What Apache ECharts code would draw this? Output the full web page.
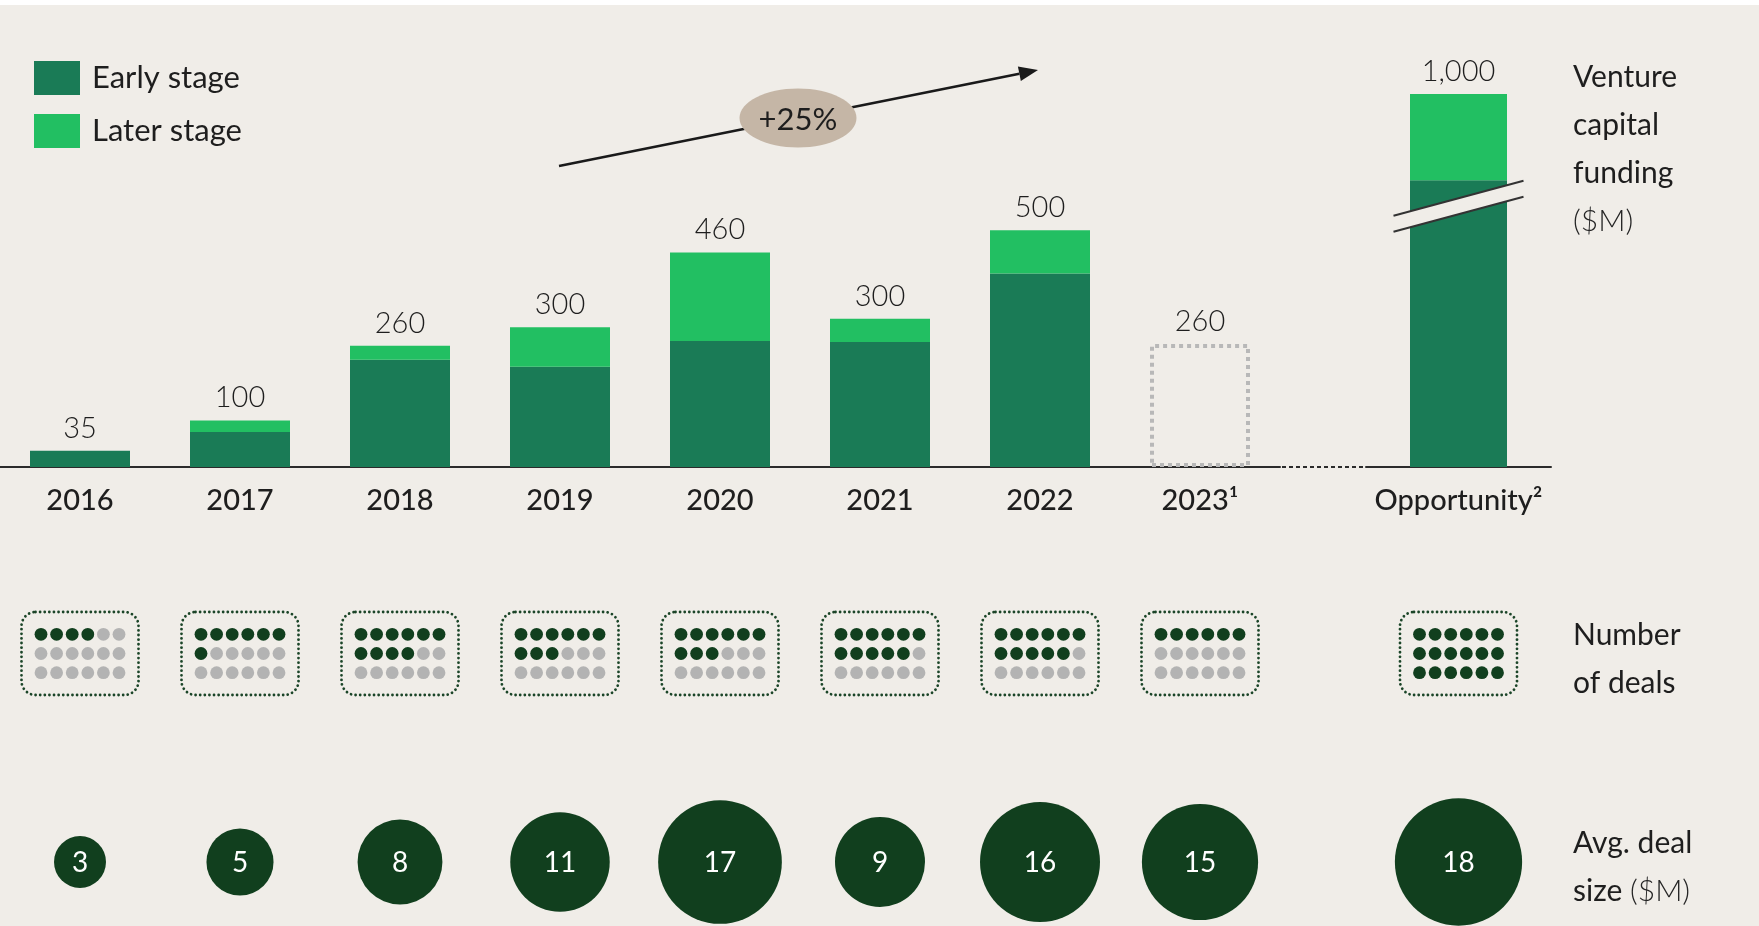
<!DOCTYPE html>
<html><head><meta charset="utf-8">
<script src="https://cdn.jsdelivr.net/npm/echarts@6/dist/echarts.min.js"></script>
<style>html,body{margin:0;padding:0;background:#F0EDE8;}#chart{width:1759px;height:926px;}</style>
</head><body><div id="chart"></div>
<script>
// ---------- data ----------
const categories = ['2016', '2017', '2018', '2019', '2020', '2021', '2022', '2023¹'];
const oppCategory = ['Opportunity²'];
const earlyStage = [35, 75, 230, 215, 270, 268, 415, null];
const laterStage = [0, 25, 30, 85, 190, 50, 93, null];
const projected2023 = [null, null, null, null, null, null, null, 264];
const oppEarly = [815];
const oppLater = [185];
const totalLabels = ['35', '100', '260', '300', '460', '300', '500', '260'];
const oppTotalLabels = ['1,000'];
const dealCounts = [4, 7, 10, 9, 9, 11, 11, 6];
const oppDealCounts = [18];
const avgDealSize = [3, 5, 8, 11, 17, 9, 16, 15];
const oppAvgDealSize = [18];

// ---------- style ----------
const FONT = 'Lato, "Noto Sans", sans-serif';
const BG = '#F0EDE8';
const EARLY = '#1A7B56';
const LATER = '#22BF62';
const DARK = '#113F1E';
const GREY = '#B3B3B3';
const TXT = '#1E1E1E';
const OPP_BREAK = { start: 555, end: 755 };

const totals = earlyStage.map((v, i) => v == null ? projected2023[i] : v + (laterStage[i] || 0));
const oppTotals = oppEarly.map((v, i) => v + oppLater[i]);

function renderDeals(params, api) {
  const c = api.coord([api.value(0), api.value(1)]);
  const n = api.value(2);
  const w = 117, h = 83;
  const children = [{
    type: 'rect',
    shape: { x: c[0] - w / 2, y: c[1] - h / 2, width: w, height: h, r: 14 },
    style: { fill: 'none', stroke: '#1B4528', lineWidth: 2.8, lineDash: [0.01, 4.6], lineCap: 'round' }
  }];
  for (let k = 0; k < 18; k++) {
    const row = Math.floor(k / 6), col = k % 6;
    children.push({
      type: 'circle',
      shape: { cx: c[0] + (col - 2.5) * 15.6, cy: c[1] + (row - 1) * 19.2, r: 6.4 },
      style: { fill: k < n ? DARK : GREY }
    });
  }
  return { type: 'group', children };
}

const hiddenCat = (data, gi) => ({ type: 'category', data, gridIndex: gi, show: false });
const xLabel = {
  margin: 19, fontSize: 29, color: TXT, fontFamily: FONT, fontWeight: 500
};

const valueLabel = (arr) => ({
  show: true, position: 'top', distance: 8,
  fontSize: 29, fontWeight: 300, color: TXT, fontFamily: FONT,
  formatter: p => arr[p.dataIndex]
});

const circleSeries = (data, gi) => ({
  type: 'scatter', xAxisIndex: gi, yAxisIndex: gi,
  data: data.map((v, i) => [i, 0, v]),
  symbol: 'circle',
  symbolSize: d => 30 * Math.sqrt(d[2]),
  itemStyle: { color: DARK, opacity: 1 },
  label: { show: true, position: 'inside', formatter: p => p.value[2], color: '#FFFFFF', fontSize: 28, fontFamily: FONT, offset: [0, 1] },
  silent: true
});

const option = {
  backgroundColor: BG,
  animation: false,
  textStyle: { fontFamily: FONT },
  legend: {
    left: 34, top: 61, padding: 0, orient: 'vertical', itemWidth: 46, itemHeight: 34, itemGap: 19,
    icon: 'rect', data: ['Early stage', 'Later stage'],
    textStyle: { fontSize: 31, color: TXT, fontFamily: FONT, padding: [4, 0, 0, 7] }
  },
  grid: [
    { left: 0, top: 94, width: 1280, height: 373 },
    { left: 1366, top: 94, width: 185, height: 373 },
    { left: 0, top: 612, width: 1280, height: 83 },
    { left: 1366, top: 612, width: 185, height: 83 },
    { left: 0, top: 802, width: 1280, height: 120 },
    { left: 1366, top: 802, width: 185, height: 120 }
  ],
  xAxis: [
    { type: 'category', data: categories, gridIndex: 0, axisTick: { show: false },
      axisLine: { lineStyle: { color: '#2B2B2B', width: 2 } }, axisLabel: xLabel },
    { type: 'category', data: oppCategory, gridIndex: 1, axisTick: { show: false },
      axisLine: { lineStyle: { color: '#2B2B2B', width: 2 } }, axisLabel: xLabel },
    hiddenCat(categories, 2), hiddenCat(oppCategory, 3),
    hiddenCat(categories, 4), hiddenCat(oppCategory, 5)
  ],
  yAxis: [
    { type: 'value', gridIndex: 0, min: 0, max: 800, show: false, splitLine: { show: false } },
    { type: 'value', gridIndex: 1, min: 0, max: 1000,
      breaks: [{ start: OPP_BREAK.start, end: OPP_BREAK.end, gap: 0 }],
      breakArea: { show: false },
      axisLine: { show: false }, axisLabel: { show: false }, axisTick: { show: false }, splitLine: { show: false } },
    hiddenCat(['deals'], 2), hiddenCat(['deals'], 3),
    hiddenCat(['avg'], 4), hiddenCat(['avg'], 5)
  ],
  series: [
    { name: 'Early stage', type: 'bar', xAxisIndex: 0, yAxisIndex: 0, stack: 'fund', barWidth: 100,
      data: earlyStage, itemStyle: { color: EARLY } },
    { name: 'Later stage', type: 'bar', xAxisIndex: 0, yAxisIndex: 0, stack: 'fund', barWidth: 100,
      data: laterStage, itemStyle: { color: LATER } },
    { name: 'Total', type: 'bar', xAxisIndex: 0, yAxisIndex: 0, barWidth: 100, barGap: '-100%', silent: true,
      data: totals.map((v, i) => projected2023[i] != null
        ? { value: v, itemStyle: { color: 'rgba(0,0,0,0)', borderColor: '#B8B8B8', borderWidth: 4, borderType: [4, 4] } }
        : { value: v, itemStyle: { color: 'rgba(0,0,0,0)' } }),
      label: valueLabel(totalLabels), z: 1 },
    { name: 'Early stage', type: 'bar', xAxisIndex: 1, yAxisIndex: 1, stack: 'opp', barWidth: 97,
      data: oppEarly, itemStyle: { color: EARLY } },
    { name: 'Later stage', type: 'bar', xAxisIndex: 1, yAxisIndex: 1, stack: 'opp', barWidth: 97,
      data: oppLater, itemStyle: { color: LATER } },
    { name: 'Opp total', type: 'bar', xAxisIndex: 1, yAxisIndex: 1, barWidth: 97, barGap: '-100%', silent: true,
      data: oppTotals, itemStyle: { color: 'rgba(0,0,0,0)' }, label: valueLabel(oppTotalLabels) },
    { name: 'Deals', type: 'custom', xAxisIndex: 2, yAxisIndex: 2, renderItem: renderDeals,
      encode: { x: 0, y: 1 }, data: dealCounts.map((n, i) => [i, 0, n]), silent: true },
    { name: 'Opp deals', type: 'custom', xAxisIndex: 3, yAxisIndex: 3, renderItem: renderDeals,
      encode: { x: 0, y: 1 }, data: oppDealCounts.map((n, i) => [i, 0, n]), silent: true },
    circleSeries(avgDealSize, 4),
    circleSeries(oppAvgDealSize, 5)
  ]
};

const chart = echarts.init(document.getElementById('chart'));
chart.setOption(option);

// ---------- annotations ----------
const g = [];
g.push({ type: 'rect', id: 'topstrip', shape: { x: 0, y: 0, width: 1759, height: 5 }, style: { fill: '#FFFFFF' }, z: 100 });

// trend arrow
const a0 = [559, 166], a1 = [1038, 70];
const ang = Math.atan2(a1[1] - a0[1], a1[0] - a0[0]);
const L = 19, HW = 7.5;
const base = [a1[0] - L * Math.cos(ang), a1[1] - L * Math.sin(ang)];
g.push({ type: 'line', id: 'arrowLine', shape: { x1: a0[0], y1: a0[1], x2: base[0], y2: base[1] }, style: { stroke: '#1A1A1A', lineWidth: 2.6 }, z: 50 });
g.push({ type: 'polygon', id: 'arrowHead', shape: { points: [a1,
  [base[0] + HW * Math.sin(ang), base[1] - HW * Math.cos(ang)],
  [base[0] - HW * Math.sin(ang), base[1] + HW * Math.cos(ang)]] }, style: { fill: '#1A1A1A' }, z: 50 });
g.push({ type: 'ellipse', id: 'pill', shape: { cx: 798, cy: 118, rx: 58.5, ry: 29.5 }, style: { fill: '#C5B6A6' }, z: 51 });
g.push({ type: 'text', id: 'pillText', x: 798, y: 120, style: { text: '+25%', fontSize: 31, fontFamily: FONT, fill: TXT, align: 'center', verticalAlign: 'middle' }, z: 52 });

// right-hand row titles
const rowTitle = (id, y, text) => ({
  type: 'text', id, x: 1573, y,
  style: {
    text, fontFamily: FONT, fontSize: 30, lineHeight: 48, fill: TXT,
    rich: { u: { fontFamily: FONT, fontSize: 30, lineHeight: 48, fill: '#262626', fontWeight: 300 } }
  }, z: 60
});
g.push(rowTitle('t1', 53, 'Venture\ncapital\nfunding\n{u|($M)}'));
g.push(rowTitle('t2', 611, 'Number\nof deals'));
g.push(rowTitle('t3', 819, 'Avg. deal\nsize {u|($M)}'));

// dotted connector on baseline, axis break marks on the opportunity bar
const oppZero = chart.convertToPixel({ gridIndex: 1 }, [0, 0]);
const yBase = oppZero[1];
g.push({ type: 'line', id: 'dotAxis', shape: { x1: 1282, y1: yBase, x2: 1364, y2: yBase }, style: { stroke: '#2B2B2B', lineWidth: 2, lineDash: [4, 3] }, z: 20 });
const bp = chart.convertToPixel({ gridIndex: 1 }, [0, OPP_BREAK.start]);
const cx = bp[0], cy = bp[1] - 2;
const hx = 65, dy = 17.5, half = 8;
g.push({ type: 'polygon', id: 'brkFill', shape: { points: [
  [cx - hx, cy + dy - half], [cx + hx, cy - dy - half], [cx + hx, cy - dy + half], [cx - hx, cy + dy + half]] },
  style: { fill: BG }, z: 30 });
g.push({ type: 'line', id: 'brk1', shape: { x1: cx - hx, y1: cy + dy - half, x2: cx + hx, y2: cy - dy - half }, style: { stroke: '#333333', lineWidth: 2 }, z: 31 });
g.push({ type: 'line', id: 'brk2', shape: { x1: cx - hx, y1: cy + dy + half, x2: cx + hx, y2: cy - dy + half }, style: { stroke: '#333333', lineWidth: 2 }, z: 31 });

chart.setOption({ graphic: g });
</script></body></html>
